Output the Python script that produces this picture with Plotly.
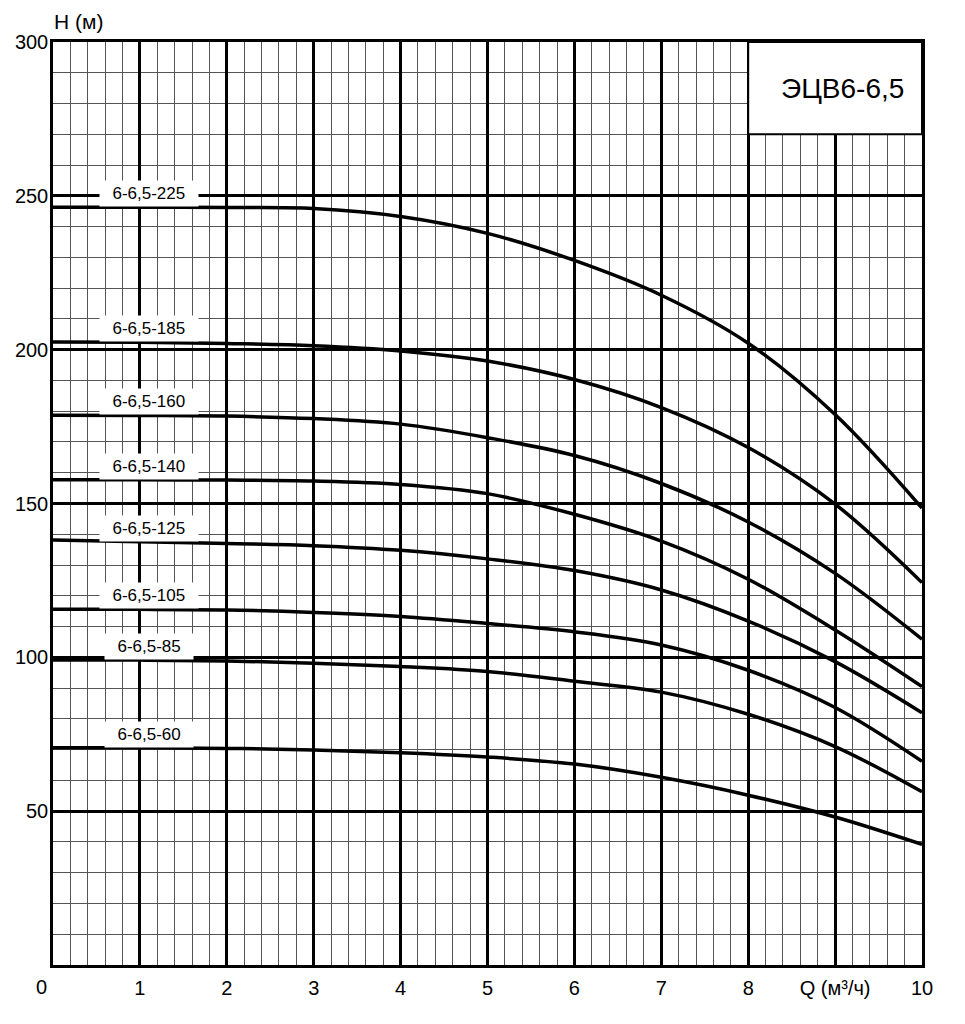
# -*- coding: utf-8 -*-

import plotly.graph_objects as go

# Q (м3/ч)
caudal = [0, 1, 2, 3, 4, 5, 6, 7, 8, 9, 10]

# H (м) for each pump, same Q points
h_225 = [246.3, 246.3, 246.2, 245.9, 243.3, 237.8, 229.0, 217.7, 202.1, 178.9, 148.5]
h_185 = [202.5, 202.4, 202.0, 201.3, 199.6, 196.3, 190.3, 181.2, 168.2, 149.8, 124.3]
h_160 = [178.7, 178.6, 178.4, 177.6, 175.8, 171.4, 165.6, 156.5, 144.0, 127.3, 105.9]
h_140 = [157.7, 157.7, 157.6, 157.3, 156.2, 153.2, 146.5, 137.8, 125.4, 108.9, 90.5]
h_125 = [138.1, 137.6, 137.0, 136.3, 134.8, 132.0, 128.2, 121.9, 111.8, 98.6, 82.0]
h_105 = [115.6, 115.6, 115.4, 114.6, 113.3, 111.0, 108.3, 104.0, 95.8, 83.7, 66.2]
h_85 = [99.1, 99.1, 98.8, 98.1, 97.0, 95.4, 92.2, 88.7, 81.5, 71.0, 56.3]
h_60 = [70.6, 70.6, 70.4, 69.9, 69.0, 67.6, 65.3, 61.0, 55.2, 48.1, 39.2]

nombres = ['6-6,5-225', '6-6,5-185', '6-6,5-160', '6-6,5-140',
           '6-6,5-125', '6-6,5-105', '6-6,5-85', '6-6,5-60']
curvas = [h_225, h_185, h_160, h_140, h_125, h_105, h_85, h_60]

x_ticks = [1, 2, 3, 4, 5, 6, 7, 8, 9, 10]
x_text = ['1', '2', '3', '4', '5', '6', '7', '8', 'Q (м³/ч)', '10']
y_ticks = [50, 100, 150, 200, 250, 300]

titulo = 'ЭЦВ6-6,5'
fuente = 'Liberation Sans, Arial, sans-serif'
relleno = '\u00a0\u00a0'

fig = go.Figure()

for nombre, h in zip(nombres, curvas):
    fig.add_trace(go.Scatter(x=caudal, y=h, mode='lines', name=nombre,
                             line=dict(color='black', width=3.5, shape='spline'),
                             showlegend=False, hoverinfo='skip'))
    # etiqueta encima de la curva con fondo blanco
    fig.add_annotation(x=1.1, y=h[1] + 4.4, xref='x', yref='y',
                       text=relleno + nombre + relleno,
                       showarrow=False, bgcolor='white', borderpad=3,
                       font=dict(family=fuente, size=17, color='black'))

# cuadro del titulo
fig.add_shape(type='rect', x0=8, x1=10, y0=270, y1=300, xref='x', yref='y',
              fillcolor='white', line=dict(color='black', width=2), layer='above')
fig.add_annotation(x=9.09, y=285, xref='x', yref='y', text=titulo, showarrow=False,
                   font=dict(family=fuente, size=28, color='black'))

fig.add_annotation(x=0, y=1.0217, xref='paper', yref='paper', text='H (м)',
                   showarrow=False, xanchor='left', yanchor='middle', borderpad=0,
                   font=dict(family=fuente, size=21, color='black'))
fig.add_annotation(x=-0.0138, y=-0.0238, xref='paper', yref='paper', text='0',
                   showarrow=False, xanchor='center', yanchor='middle',
                   font=dict(family=fuente, size=20, color='black'))

fig.update_xaxes(range=[0, 10], tickvals=x_ticks, ticktext=x_text,
                 showgrid=True, gridcolor='black', gridwidth=2.5,
                 minor=dict(tick0=0, dtick=0.2, showgrid=True, gridcolor='#555555', gridwidth=1.3),
                 showline=True, mirror=True, linecolor='black', linewidth=2.5,
                 ticks='', ticklabelstandoff=3, zeroline=False, automargin=False,
                 tickfont=dict(family=fuente, size=20, color='black'))
fig.update_yaxes(range=[0, 300], tickvals=y_ticks,
                 showgrid=True, gridcolor='black', gridwidth=2.5,
                 minor=dict(tick0=0, dtick=10, showgrid=True, gridcolor='#555555', gridwidth=1.3),
                 showline=True, mirror=True, linecolor='black', linewidth=2.5,
                 ticks='', ticklabelstandoff=-2, zeroline=False, automargin=False,
                 tickfont=dict(family=fuente, size=20, color='black'))

fig.update_layout(width=965, height=1024, autosize=False,
                  margin=dict(l=45, r=51, t=34, b=67),
                  paper_bgcolor='white', plot_bgcolor='white')

fig.write_html("out.html")
